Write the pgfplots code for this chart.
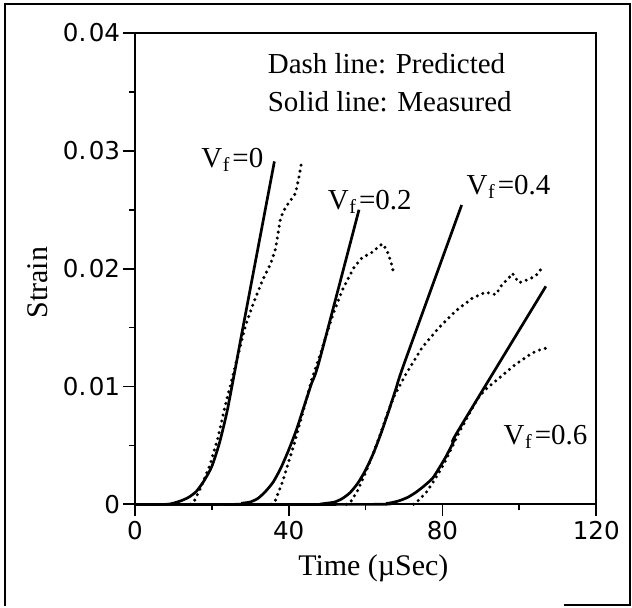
\documentclass[border=0pt]{standalone}
\usepackage{fontspec}
\setmainfont{Liberation Serif}
\setsansfont{Liberation Sans}
\newfontfamily\tickfont{DejaVu Sans}
\usepackage{pgfplots}
\pgfplotsset{compat=1.18}
\newcommand{\Vf}{V\kern0.3pt\raisebox{-0.3ex}{\fontsize{10}{10}\selectfont f}\kern1.5pt}
\newcommand{\tl}[1]{0.\kern1.2pt#1}
\begin{document}
\begin{tikzpicture}
\begin{axis}[
  scale only axis, width=231pt, height=236pt,
  xmin=0, xmax=120, ymin=0, ymax=0.04,
  xtick={0,40,80,120}, xticklabels={0,40,80,120},
  ytick={0,0.01,0.02,0.03,0.04}, yticklabels={0,\tl{01},\tl{02},\tl{03},\tl{04}},
  minor xtick={20,60,100}, minor ytick={0.005,0.015,0.025,0.035},
  xtick pos=bottom, ytick pos=left,
  tick align=outside,
  major tick length=6pt, minor tick length=3pt,
  every tick/.style={black, line width=0.9pt},
  axis line style={line width=1pt},
  tick label style={font=\tickfont\fontsize{12.3}{14}\selectfont},
  yticklabel style={anchor=east, inner sep=1.2pt},
  xticklabel style={anchor=north, inner sep=2.5pt},
  scaled y ticks=false, scaled x ticks=false,
  xlabel={Time (µSec)}, ylabel={Strain},
  label style={font=\fontsize{15}{16}\selectfont},
  xlabel style={at={(axis description cs:0.517,-0.135)}, anchor=center},
  ylabel style={at={(axis description cs:-0.21,0.47)}, anchor=center},
  clip=false,
]
% ---- Vf = 0
\addplot[black, line width=1.35pt, smooth, tension=0.4] coordinates {
 (0,0)(8,0)(10,0.0001)(12,0.0003)(14,0.0006)(16,0.0011)(18,0.002)(20,0.0032)(22,0.0052)(24,0.0079)(26,0.0113)(28,0.0148)(36.3,0.0291)};
\addplot[black, line width=1.7pt, line cap=round, dash pattern=on 0pt off 3pt] coordinates {
 (14.5,0)(15.5,0.0003)(17.5,0.0017)(19.5,0.0033)(21.5,0.0055)(23.6,0.0085)(25.8,0.0113)(28.8,0.0152)(31,0.0172)(33.2,0.019)(35.3,0.0204)(36.6,0.0217)(37.9,0.0243)(39.2,0.0252)(41.8,0.0264)(42.7,0.0278)(43.4,0.0291)};
% ---- Vf = 0.2
\addplot[black, line width=1.35pt, smooth, tension=0.4] coordinates {
 (0,0)(26,0)(28,0.0001)(30,0.0002)(32,0.0005)(34,0.0011)(36,0.0019)(38,0.0031)(40,0.0046)(42,0.0063)(44,0.0083)(46,0.0103)(48,0.0122)(58.3,0.025)};
\addplot[black, line width=1.7pt, line cap=round, dash pattern=on 0pt off 3pt] coordinates {
 (35.5,0)(36.5,0.0003)(38.4,0.0019)(40,0.0036)(41.5,0.0052)(43.6,0.0077)(46.2,0.0108)(48.8,0.0133)(51.4,0.016)(54,0.0182)(55.7,0.0193)(57,0.0201)(59,0.0209)(61.8,0.0214)(63.5,0.0219)(64.4,0.0221)(65.5,0.0216)(66.5,0.0207)(67.4,0.0195)};
% ---- Vf = 0.4
\addplot[black, line width=1.35pt, smooth, tension=0.4] coordinates {
 (0,0)(48,0)(50,0.0001)(52,0.0002)(54,0.0005)(56,0.001)(58,0.0018)(60,0.0029)(62,0.0043)(64,0.006)(66,0.0079)(68,0.0099)(70,0.0119)(85,0.0254)};
\addplot[black, line width=1.7pt, line cap=round, dash pattern=on 0pt off 3pt] coordinates {
 (55,0)(56.3,0.0003)(58,0.0012)(60,0.0027)(62,0.0043)(64,0.0061)(66,0.008)(67.5,0.0092)(70.4,0.011)(74.7,0.0133)(79.1,0.015)(83.4,0.0164)(87.8,0.0175)(91.2,0.018)(93.9,0.0178)(95.6,0.0187)(97,0.0191)(98.2,0.0196)(99.9,0.0188)(102.5,0.0191)(104.3,0.0194)(106,0.0201)};
% ---- Vf = 0.6
\addplot[black, line width=1.35pt, smooth, tension=0.4] coordinates {
 (0,0)(62,0)(66,0.0001)(68.7,0.0003)(71,0.0006)(73,0.001)(75,0.0015)(77.4,0.0022)(79,0.003)(81,0.0041)(83,0.0054)(84,0.0062)(106.9,0.0185)};
\addplot[black, line width=1.7pt, line cap=round, dash pattern=on 0pt off 3pt] coordinates {
 (72.5,0)(74,0.0004)(76,0.0011)(78,0.0021)(80,0.0032)(82,0.0045)(84,0.0059)(86.5,0.0074)(88,0.0083)(89.5,0.0091)(91,0.0097)(94.7,0.0107)(99.1,0.0119)(103.4,0.01285)(106,0.0132)(108.2,0.0133)};
% ---- texts
\node[anchor=west, inner sep=0pt, font=\fontsize{14.5}{16}\selectfont] at (axis cs:34.5,0.0374) {Dash line: Predicted};
\node[anchor=west, inner sep=0pt, font=\fontsize{14.5}{16}\selectfont] at (axis cs:34.5,0.0342) {Solid line: Measured};
\node[anchor=east, font=\fontsize{14.5}{16}\selectfont, inner sep=0pt] at (axis cs:33.5,0.0292) {\Vf=0};
\node[anchor=west, font=\fontsize{14.5}{16}\selectfont, inner sep=0pt] at (axis cs:50.1,0.0257) {\Vf=0.2};
\node[anchor=west, font=\fontsize{14.5}{16}\selectfont, inner sep=0pt] at (axis cs:86.2,0.0269) {\Vf=0.4};
\node[anchor=west, font=\fontsize{14.5}{16}\selectfont, inner sep=0pt] at (axis cs:95.8,0.00576) {\Vf=0.6};
\end{axis}
\draw[line width=0.8pt] ([shift={(-65pt,-51pt)}]current axis.south west) |- ([shift={(248pt,250.5pt)}]current axis.south west) -- ([shift={(248pt,-51pt)}]current axis.south west);
\draw[line width=0.8pt] ([shift={(215pt,-50.5pt)}]current axis.south west) -- ([shift={(248.5pt,-50.5pt)}]current axis.south west);
\path[use as bounding box] ([shift={(-67.5pt,-51pt)}]current axis.south west) rectangle ([shift={(248.5pt,252.5pt)}]current axis.south west);
\end{tikzpicture}
\end{document}
